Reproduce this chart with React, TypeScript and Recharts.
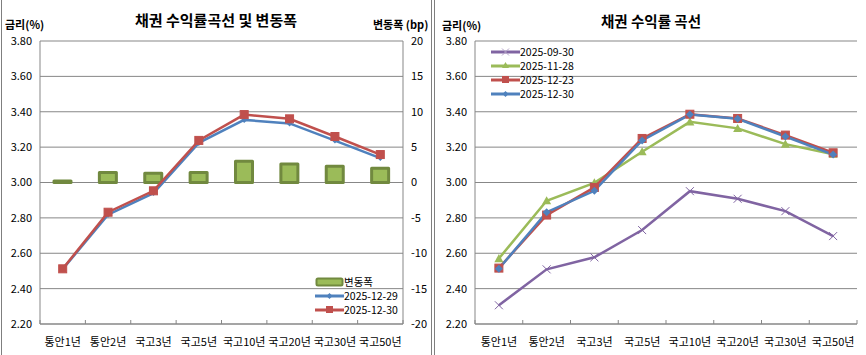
import { ComposedChart, LineChart, Bar, Line, XAxis, YAxis, CartesianGrid } from "recharts";

const categories = ["통안1년", "통안2년", "국고3년", "국고5년", "국고10년", "국고20년", "국고30년", "국고50년"];

// 좌측 차트: 전일 대비
const yield1229 = [2.51, 2.818, 2.94, 3.224, 3.354, 3.334, 3.237, 3.138];
const yield1230 = [2.512, 2.832, 2.953, 3.238, 3.384, 3.36, 3.26, 3.158];
const changeBp = [0.2, 1.4, 1.3, 1.4, 3.0, 2.6, 2.3, 2.0];

// 우측 차트: 기간별 곡선
const yield0930 = [2.306, 2.509, 2.577, 2.731, 2.951, 2.908, 2.838, 2.697];
const yield1128 = [2.57, 2.897, 2.998, 3.174, 3.343, 3.306, 3.217, 3.16];
const yield1223 = [2.516, 2.816, 2.972, 3.249, 3.386, 3.362, 3.268, 3.168];

const rateTicks = [2.2, 2.4, 2.6, 2.8, 3.0, 3.2, 3.4, 3.6, 3.8];
const bpTicks = [-20, -15, -10, -5, 0, 5, 10, 15, 20];

const leftData = categories.map((cat, i) => ({
  cat,
  change: changeBp[i],
  d1229: yield1229[i],
  d1230: yield1230[i],
}));

const rightData = categories.map((cat, i) => ({
  cat,
  d0930: yield0930[i],
  d1128: yield1128[i],
  d1223: yield1223[i],
  d1230: yield1230[i],
}));

const FONT = "'Noto Sans CJK KR', 'Malgun Gothic', sans-serif";
const GRID = "#878787";
const BLUE = "#4F81BD";
const RED = "#C0504D";
const GREEN = "#9BBB59";
const GREEN_DARK = "#71893F";
const PURPLE = "#8064A2";

function CatTick(props: any) {
  const { x, y, payload, index, band } = props;
  const half = band / 2;
  return (
    <g>
      <line x1={x + half} x2={x + half} y1={y} y2={y - 4} stroke={GRID} />
      {index === 0 && <line x1={x - half} x2={x - half} y1={y} y2={y - 4} stroke={GRID} />}
      <text x={x} y={y + 22} textAnchor="middle" fontSize={11} fill="#000" fontFamily={FONT}>
        {payload.value}
      </text>
    </g>
  );
}

const squareDot = (color: string, s: number) => (p: any) => (
  <rect key={p.index} x={p.cx - s / 2} y={p.cy - s / 2} width={s} height={s} fill={color} stroke={color} />
);
const diamondDot = (color: string, s: number) => (p: any) => (
  <polygon
    key={p.index}
    points={`${p.cx},${p.cy - s} ${p.cx + s},${p.cy} ${p.cx},${p.cy + s} ${p.cx - s},${p.cy}`}
    fill={color}
  />
);
const triangleDot = (color: string, s: number) => (p: any) => (
  <polygon
    key={p.index}
    points={`${p.cx},${p.cy - s} ${p.cx + s},${p.cy + s * 0.8} ${p.cx - s},${p.cy + s * 0.8}`}
    fill={color}
  />
);
const crossDot = (color: string, s: number) => (p: any) => (
  <g key={p.index}>
    <line x1={p.cx - s} y1={p.cy - s} x2={p.cx + s} y2={p.cy + s} stroke={color} strokeWidth={1} />
    <line x1={p.cx - s} y1={p.cy + s} x2={p.cx + s} y2={p.cy - s} stroke={color} strokeWidth={1} />
  </g>
);

function LegendRow({ label, color, kind }: { label: string; color: string; kind: string }) {
  return (
    <div style={{ display: "flex", alignItems: "center", height: 14 }}>
      <svg width={29} height={12}>
        {kind === "bar" ? (
          <rect x={1.5} y={2.5} width={26} height={7} rx={1.5} fill={GREEN} stroke={GREEN_DARK} strokeWidth={2} />
        ) : (
          <line x1={0} x2={29} y1={6} y2={6} stroke={color} strokeWidth={3} />
        )}
        {kind === "square" && <rect x={11} y={2} width={7} height={7} fill={color} />}
        {kind === "diamond" && <polygon points="14.5,3 17.5,6 14.5,9 11.5,6" fill={color} />}
        {kind === "triangle" && <polygon points="14.5,2 18,8 11,8" fill={color} />}
        {kind === "cross" && (
          <g stroke="#B3A2C7" strokeWidth={1}>
            <line x1={11} y1={2.5} x2={18} y2={9.5} />
            <line x1={11} y1={9.5} x2={18} y2={2.5} />
          </g>
        )}
      </svg>
      <span style={{ fontSize: 10.5, fontFamily: FONT, color: "#000", lineHeight: "14px" }}>{label}</span>
    </div>
  );
}

const axisText = { fontSize: 11, fill: "#000", fontFamily: FONT };
const titleStyle = {
  position: "absolute" as const,
  fontFamily: FONT,
  fontWeight: 700,
  color: "#000",
  whiteSpace: "nowrap" as const,
  lineHeight: 1,
};

function LeftChart() {
  const band = (403 - 40) / categories.length;
  return (
    <div style={{ position: "absolute", left: 0, top: 0, width: 430, height: 355 }}>
      <ComposedChart width={430} height={355} data={leftData} margin={{ top: 41, right: 0, bottom: 0, left: 0 }}>
        <CartesianGrid yAxisId="l" vertical={false} stroke={GRID} />
        <XAxis
          dataKey="cat"
          height={31}
          interval={0}
          tickSize={0}
          tickMargin={0}
          tickLine={false}
          axisLine={{ stroke: GRID }}
          tick={<CatTick band={band} />}
        />
        <YAxis
          yAxisId="l"
          width={40}
          domain={[2.2, 3.8]}
          ticks={rateTicks}
          tickFormatter={(v: number) => v.toFixed(2)}
          tickLine={false}
          axisLine={{ stroke: GRID }}
          tick={axisText}
        />
        <YAxis
          yAxisId="r"
          orientation="right"
          width={27}
          domain={[-20, 20]}
          ticks={bpTicks}
          tickLine={false}
          axisLine={{ stroke: GRID }}
          tick={{ ...axisText, textAnchor: "start" }}
        />
        <Bar
          yAxisId="r"
          dataKey="change"
          barSize={17}
          fill={GREEN}
          stroke={GREEN_DARK}
          strokeWidth={3}
          style={{ strokeLinejoin: "round" }}
          isAnimationActive={false}
        />
        <Line yAxisId="l" dataKey="d1229" stroke={BLUE} strokeWidth={2.5} dot={diamondDot(BLUE, 3)} isAnimationActive={false} />
        <Line yAxisId="l" dataKey="d1230" stroke={RED} strokeWidth={2.5} dot={squareDot(RED, 8)} isAnimationActive={false} />
      </ComposedChart>
      <div style={{ ...titleStyle, left: 0, width: 432, top: 12, textAlign: "center", fontSize: 15 }}>채권 수익률곡선 및 변동폭</div>
      <div style={{ ...titleStyle, left: 5, top: 19, fontSize: 11 }}>금리(%)</div>
      <div style={{ ...titleStyle, left: 373, top: 19, fontSize: 11 }}>변동폭 (bp)</div>
      <div style={{ position: "absolute", left: 315, top: 275 }}>
        <LegendRow label="변동폭" color={GREEN} kind="bar" />
        <LegendRow label="2025-12-29" color={BLUE} kind="diamond" />
        <LegendRow label="2025-12-30" color={RED} kind="square" />
      </div>
    </div>
  );
}

function RightChart() {
  const band = (857 - 475) / categories.length;
  return (
    <div style={{ position: "absolute", left: 436, top: 0, width: 430, height: 355 }}>
      <LineChart width={430} height={355} data={rightData} margin={{ top: 41, right: 9, bottom: 0, left: 0 }}>
        <CartesianGrid vertical={false} stroke={GRID} />
        <XAxis
          dataKey="cat"
          scale="band"
          height={31}
          interval={0}
          tickSize={0}
          tickMargin={0}
          tickLine={false}
          axisLine={{ stroke: GRID }}
          tick={<CatTick band={band} />}
        />
        <YAxis
          width={39}
          domain={[2.2, 3.8]}
          ticks={rateTicks}
          tickFormatter={(v: number) => v.toFixed(2)}
          tickLine={false}
          axisLine={{ stroke: GRID }}
          tick={axisText}
        />
        <Line dataKey="d0930" stroke={PURPLE} strokeWidth={2.5} dot={crossDot(PURPLE, 4)} isAnimationActive={false} />
        <Line dataKey="d1128" stroke={GREEN} strokeWidth={2.5} dot={triangleDot(GREEN, 4.5)} isAnimationActive={false} />
        <Line dataKey="d1223" stroke={RED} strokeWidth={2.5} dot={squareDot(RED, 8)} isAnimationActive={false} />
        <Line dataKey="d1230" stroke={BLUE} strokeWidth={2.5} dot={diamondDot(BLUE, 4)} isAnimationActive={false} />
      </LineChart>
      <div style={{ ...titleStyle, left: 0, width: 430, top: 14, textAlign: "center", fontSize: 14.5 }}>채권 수익률 곡선</div>
      <div style={{ ...titleStyle, left: 6, top: 20, fontSize: 11 }}>금리(%)</div>
      <div style={{ position: "absolute", left: 55, top: 45 }}>
        <LegendRow label="2025-09-30" color={PURPLE} kind="cross" />
        <LegendRow label="2025-11-28" color={GREEN} kind="triangle" />
        <LegendRow label="2025-12-23" color={RED} kind="square" />
        <LegendRow label="2025-12-30" color={BLUE} kind="diamond" />
      </div>
    </div>
  );
}

export default function App() {
  return (
    <div style={{ position: "absolute", left: 0, top: 0, width: 866, height: 355, background: "#fff", overflow: "hidden" }}>
      <div style={{ position: "absolute", left: 1, top: 0, width: 1, height: 355, background: "#7f7f7f" }} />
      <div style={{ position: "absolute", left: 431, top: 0, width: 1, height: 355, background: "#7f7f7f" }} />
      <div style={{ position: "absolute", left: 434, top: 0, width: 1, height: 355, background: "#7f7f7f" }} />
      <LeftChart />
      <RightChart />
    </div>
  );
}
